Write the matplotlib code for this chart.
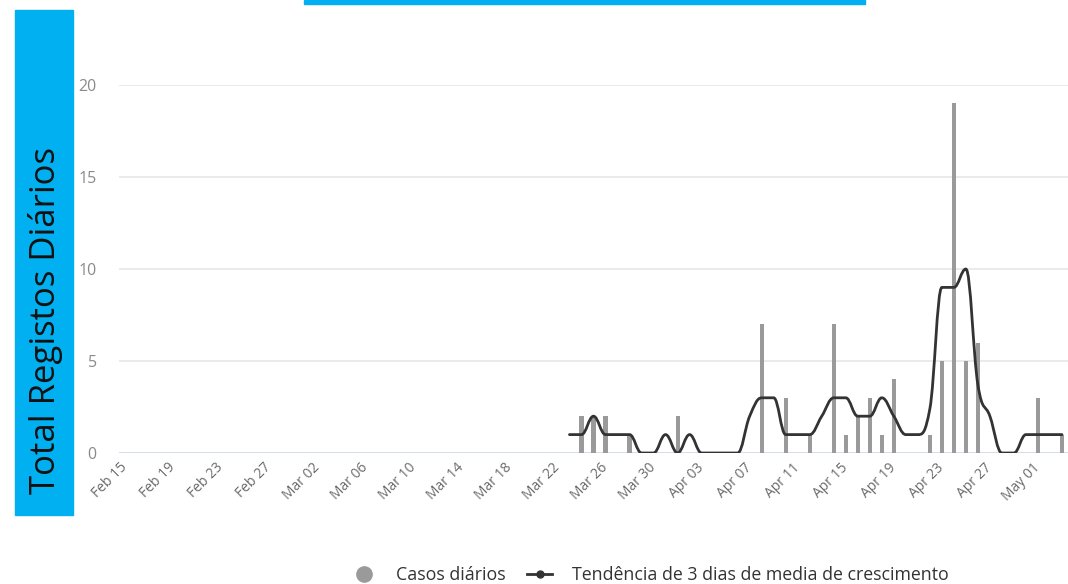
import numpy as np
import pandas as pd
import matplotlib
matplotlib.use("Agg")
import matplotlib.pyplot as plt
import matplotlib.dates as mdates
from matplotlib.path import Path
from matplotlib.patches import PathPatch, Rectangle
from matplotlib.lines import Line2D

# daily cases (bars)
bar_dates = ["2020-03-24", "2020-03-25", "2020-03-26", "2020-03-28", "2020-04-01",
             "2020-04-08", "2020-04-10", "2020-04-12", "2020-04-14", "2020-04-15",
             "2020-04-16", "2020-04-17", "2020-04-18", "2020-04-19", "2020-04-22",
             "2020-04-23", "2020-04-24", "2020-04-25", "2020-04-26", "2020-05-01",
             "2020-05-03"]
bar_values = [2, 2, 2, 1, 2, 7, 3, 1, 7, 1, 2, 3, 1, 4, 1, 5, 19, 5, 6, 3, 1]

# 3-day trend (spline), one value per day from Mar 23 to May 03
trend_start = "2020-03-23"
trend_values = [1, 1, 2, 1, 1, 1, 0, 0, 1, 0, 1, 0, 0, 0, 0, 2, 3, 3, 1, 1, 1,
                2, 3, 3, 2, 2, 3, 2, 1, 1, 2.4, 9, 9, 10, 3.7, 2, 0, 0, 1, 1, 1, 1]

x_start, x_end = "2020-02-15", "2020-05-03"
tick_start, tick_end = "2020-02-15", "2020-05-01"
y_ticks = [0, 5, 10, 15, 20]

y_title = "Total Registos Diários"
bar_label = "Casos diários"
line_label = "Tendência de 3 dias de media de crescimento"

BLUE = "#00b0f0"
BAR_C = "#9a9a9a"
LINE_C = "#333333"

plt.rcParams["font.family"] = ["Open Sans", "DejaVu Sans"]


def hc_spline(xs, ys, smoothing=1.5):
    """Bezier path built like a Highcharts spline series."""
    n = len(xs)
    left, right = [None] * n, [None] * n
    for i in range(n):
        x, y = xs[i], ys[i]
        if i == 0 or i == n - 1:
            left[i] = right[i] = (x, y)
            continue
        lx, ly, nx, ny = xs[i - 1], ys[i - 1], xs[i + 1], ys[i + 1]
        d = smoothing + 1
        lcx, lcy = (smoothing * x + lx) / d, (smoothing * y + ly) / d
        rcx, rcy = (smoothing * x + nx) / d, (smoothing * y + ny) / d
        if rcx != lcx:
            corr = ((rcy - lcy) * (rcx - x)) / (rcx - lcx) + y - rcy
            lcy += corr
            rcy += corr
        if lcy > ly and lcy > y:
            lcy = max(ly, y); rcy = 2 * y - lcy
        elif lcy < ly and lcy < y:
            lcy = min(ly, y); rcy = 2 * y - lcy
        if rcy > ny and rcy > y:
            rcy = max(ny, y); lcy = 2 * y - rcy
        elif rcy < ny and rcy < y:
            rcy = min(ny, y); lcy = 2 * y - rcy
        left[i], right[i] = (lcx, lcy), (rcx, rcy)
    verts = [(xs[0], ys[0])]
    codes = [Path.MOVETO]
    for i in range(1, n):
        verts += [right[i - 1], left[i], (xs[i], ys[i])]
        codes += [Path.CURVE4] * 3
    return Path(verts, codes)


fig = plt.figure(figsize=(10.68, 5.84), dpi=100)
ax = fig.add_axes([119 / 1068, 1 - 453 / 584, 1 - 119 / 1068, (453 - 85) / 584])

bx = mdates.date2num(pd.to_datetime(bar_dates))
ax.bar(bx, bar_values, width=0.34, color=BAR_C, zorder=2)

tx = mdates.date2num(pd.date_range(trend_start, periods=len(trend_values), freq="D"))
ax.add_patch(PathPatch(hc_spline(list(tx), list(trend_values)), fill=False,
                       edgecolor=LINE_C, lw=2.0, zorder=3, capstyle="round", joinstyle="round"))

x0 = mdates.date2num(pd.Timestamp(x_start)) - 0.5
x1 = mdates.date2num(pd.Timestamp(x_end)) + 0.5
ax.set_xlim(x0, x1)
ax.set_ylim(0, 20)

ticks = pd.date_range(tick_start, tick_end, freq="4D")
ax.set_xticks(mdates.date2num(ticks))
ax.set_xticklabels([t.strftime("%b %d") for t in ticks], rotation=45, ha="right",
                   va="center", rotation_mode="anchor")
ax.set_yticks(y_ticks)

for s in ax.spines.values():
    s.set_visible(False)
ax.tick_params(axis="x", length=0, pad=9, labelsize=10, labelcolor="#6a6a6a")
ax.tick_params(axis="y", length=0, pad=16, labelsize=11.5, labelcolor="#8a8a8a")
for yv in y_ticks[1:]:
    ax.axhline(yv, color="#e6e6e6", lw=1.2, zorder=0)
ax.axhline(0, color="#ccd6eb", lw=1.2, zorder=1)

# blue title strip and y title box
fig.patches.append(Rectangle((304 / 1068, 1 - 4 / 584), (865 - 304) / 1068, 4 / 584,
                             transform=fig.transFigure, color=BLUE, zorder=0))
fig.patches.append(Rectangle((15 / 1068, 1 - 515 / 584), (73 - 15) / 1068, (515 - 10) / 584,
                             transform=fig.transFigure, color=BLUE, zorder=0))
fig.text(46 / 1068, 1 - 320 / 584, y_title, rotation=90, ha="center", va="center",
         fontsize=25, color="#111111")

handles = [
    Line2D([], [], ls="none", marker="o", ms=11, color=BAR_C),
    Line2D([], [], color=LINE_C, lw=2, marker="o", ms=5),
]
fig.legend(handles, [bar_label, line_label], loc="center", ncol=2,
           bbox_to_anchor=(650 / 1068, 1 - 575 / 584), frameon=False,
           fontsize=12.8, handlelength=1.4, handletextpad=1.1, columnspacing=1.2,
           labelcolor="#333333")

fig.savefig("out.png", dpi=100)
